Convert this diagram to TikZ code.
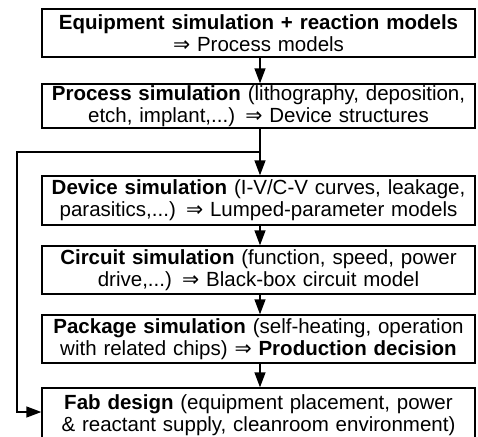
\documentclass[tikz,border=0pt]{standalone}
\usepackage{fontspec}
\setmainfont{Liberation Sans}
\newfontfamily\arrowfont{DejaVu Sans}
\usetikzlibrary{arrows.meta, calc}
\newcommand{\yields}{{\arrowfont ⇒}}
\tikzset{
  simbox/.style={draw, line width=1.4pt, minimum width=433pt, minimum height=48pt,
    text width=429pt, align=center, inner sep=0pt,
    font=\fontsize{20.5}{22}\selectfont},
  flow/.style={-{Triangle[length=15pt, width=11pt]}, line width=1.4pt}
}

\begin{document}
\begin{tikzpicture}[x=1pt, y=-1pt]
    \useasboundingbox (0,0) rectangle (478,436);
    % Simulation chain, top to bottom
    \node[simbox] (equip) at (258.5,33)
      {\textbf{Equipment simulation + reaction models}\\ \yields{} Process models};
    \node[simbox, minimum height=44pt] (process) at (258.5,106)
      {\textbf{Process simulation} (lithography, deposition,\\ etch, implant,...) \yields{} Device structures};
    \node[simbox, minimum height=49pt] (device) at (258.5,200.5)
      {\textbf{Device simulation} (I-V/C-V curves, leakage,\\ parasitics,...) \yields{} Lumped-parameter models};
    \node[simbox] (circuit) at (258.5,270)
      {\textbf{Circuit simulation} (function, speed, power\\ drive,...) \yields{} Black-box circuit model};
    \node[simbox] (package) at (258.5,339)
      {\textbf{Package simulation} (self-heating, operation\\ with related chips) \yields{} \textbf{Production decision}};
    \node[simbox, minimum height=54pt] (fab) at (258.5,415)
      {\textbf{Fab design} (equipment placement, power\\ \& reactant supply, cleanroom environment)};
    % Spine of arrows and the feedback branch
    \coordinate (spine) at (260,0);
    \coordinate (fork) at (260,152);
    \coordinate (corner) at (17,152);
    \coordinate (entry) at (17,412);
    \draw[flow] (equip.south -| spine) -- (process.north -| spine);
    \draw[flow] (process.south -| spine) -- (device.north -| spine);
    \draw[flow] (device.south -| spine) -- (circuit.north -| spine);
    \draw[flow] (circuit.south -| spine) -- (package.north -| spine);
    \draw[flow] (package.south -| spine) -- (fab.north -| spine);
    \draw[flow] (fork) -- (corner) -- (entry) -- (entry -| fab.west);
\end{tikzpicture}
\end{document}
